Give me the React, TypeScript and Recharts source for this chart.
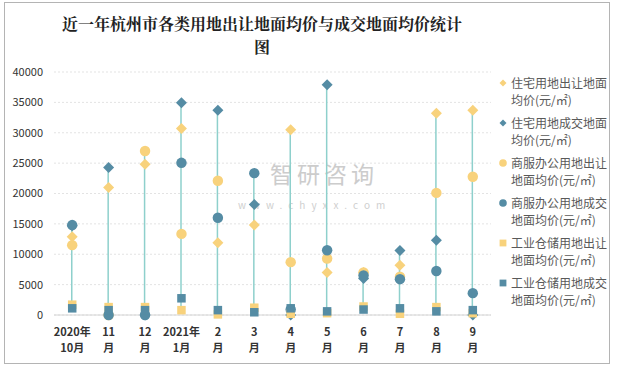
import React from "react";
import {
  ComposedChart,
  Bar,
  Line,
  XAxis,
  YAxis,
  CartesianGrid,
} from "recharts";

const months = [
  "2020年|10月",
  "11|月",
  "12|月",
  "2021年|1月",
  "2|月",
  "3|月",
  "4|月",
  "5|月",
  "6|月",
  "7|月",
  "8|月",
  "9|月",
];

// 住宅用地出让地面均价
const resSell = [12900, 21000, 24800, 30700, 11900, 14800, 30500, 7000, 7000, 8200, 33200, 33700];
// 住宅用地成交地面均价
const resDeal = [14700, 24300, 0, 34950, 33700, 18200, 0, 37900, 6000, 10600, 12300, 0];
// 商服办公用地出让地面均价
const comSell = [11500, 0, 27000, 13350, 22100, null, 8700, 9300, 7000, 6300, 20100, 22750];
// 商服办公用地成交地面均价
const comDeal = [14800, 0, 0, 25050, 16000, 23350, 900, 10650, 6500, 5900, 7250, 3600];
// 工业仓储用地出让地面均价
const indSell = [1700, 1300, 1300, 800, 100, 1200, 200, 300, 1400, 200, 1300, 300];
// 工业仓储用地成交地面均价
const indDeal = [1100, 800, 800, 2750, 800, 450, 1100, 600, 900, 1100, 600, 800];

const yTicks = [0, 5000, 10000, 15000, 20000, 25000, 30000, 35000, 40000];

const YELLOW = "#F8D27C";
const BLUE = "#558CA4";
const TEAL = "#8ED0CC";

const series = [
  { key: "resSell", name: "住宅用地出让地面均价(元/㎡)", color: YELLOW, shape: "diamond" },
  { key: "resDeal", name: "住宅用地成交地面均价(元/㎡)", color: BLUE, shape: "diamond" },
  { key: "comSell", name: "商服办公用地出让地面均价(元/㎡)", color: YELLOW, shape: "circle" },
  { key: "comDeal", name: "商服办公用地成交地面均价(元/㎡)", color: BLUE, shape: "circle" },
  { key: "indSell", name: "工业仓储用地出让地面均价(元/㎡)", color: YELLOW, shape: "square" },
  { key: "indDeal", name: "工业仓储用地成交地面均价(元/㎡)", color: BLUE, shape: "square" },
];

const data = months.map((m, i) => {
  const vals = [resSell[i], resDeal[i], comSell[i], comDeal[i], indSell[i], indDeal[i]].filter(
    (v) => v !== null
  ) as number[];
  return {
    month: m,
    resSell: resSell[i],
    resDeal: resDeal[i],
    comSell: comSell[i],
    comDeal: comDeal[i],
    indSell: indSell[i],
    indDeal: indDeal[i],
    range: [Math.min(...vals), Math.max(...vals)],
  };
});

const Marker = ({ cx, cy, shape, color, size }: any) => {
  if (cx == null || cy == null || isNaN(cy)) return null;
  const r = size / 2;
  if (shape === "diamond") {
    return (
      <path
        d={`M${cx},${cy - r} L${cx + r},${cy} L${cx},${cy + r} L${cx - r},${cy} Z`}
        fill={color}
      />
    );
  }
  if (shape === "circle") {
    return <circle cx={cx} cy={cy} r={r * 0.95} fill={color} />;
  }
  return <rect x={cx - r * 0.85} y={cy - r * 0.85} width={r * 1.7} height={r * 1.7} fill={color} />;
};

const MonthTick = ({ x, y, payload }: any) => {
  const [a, b] = String(payload.value).split("|");
  return (
    <text x={x} y={y} textAnchor="middle" fontSize={11} fontWeight="bold" fill="#333">
      <tspan x={x} dy={21}>
        {a}
      </tspan>
      <tspan x={x} dy={16}>
        {b}
      </tspan>
    </text>
  );
};

const ChartLegend = () => (
  <div style={{ position: "absolute", left: 498, top: 74, width: 115 }}>
    {series.map((s) => (
      <div key={s.key} style={{ display: "flex", alignItems: "flex-start", marginBottom: 6 }}>
        <svg width={10} height={17} style={{ flex: "none", marginRight: 3 }}>
          <Marker cx={5} cy={9} shape={s.shape} color={s.color} size={s.shape === "diamond" ? 7 : 8} />
        </svg>
        <div
          style={{
            width: 97,
            fontSize: 12,
            lineHeight: "17px",
            color: "#595959",
            wordBreak: "break-all",
          }}
        >
          {s.name}
        </div>
      </div>
    ))}
  </div>
);

export default function App() {
  return (
    <div
      style={{
        position: "absolute",
        left: 0,
        top: 0,
        width: 617,
        height: 368,
        background: "#fff",
        fontFamily: "'Noto Sans CJK SC', 'Noto Sans', sans-serif",
      }}
    >
      <div
        style={{
          position: "absolute",
          left: 4,
          top: 2,
          width: 604,
          height: 360,
          border: "1px solid #b4b4b4",
        }}
      />
      <div
        style={{
          position: "absolute",
          left: 60,
          top: 12,
          width: 404,
          textAlign: "center",
          fontSize: 16,
          lineHeight: "23px",
          fontWeight: "bold",
          color: "#222",
          fontFamily: "'Noto Serif CJK SC', 'Noto Sans CJK SC', serif",
        }}
      >
        近一年杭州市各类用地出让地面均价与成交地面均价统计图
      </div>
      <div
        style={{
          position: "absolute",
          left: 270,
          top: 160,
          color: "#c4c4c4",
          fontSize: 23,
          lineHeight: "26px",
          letterSpacing: 4,
          opacity: 0.85,
        }}
      >
        智研咨询
      </div>
      <div
        style={{
          position: "absolute",
          left: 238,
          top: 199,
          color: "#cfcfcf",
          fontSize: 10,
          lineHeight: "11px",
          letterSpacing: 6,
        }}
      >
        www.chyxx.com
      </div>
      <ComposedChart
        width={617}
        height={368}
        data={data}
        margin={{ top: 72, right: 126, bottom: 0, left: 0 }}
        style={{ position: "absolute", left: 0, top: 0 }}
      >
        <CartesianGrid vertical={false} stroke="#e3e3e3" strokeDasharray="2 2" />
        <XAxis
          dataKey="month"
          axisLine={{ stroke: "#d4d4d4" }}
          tickLine={false}
          tickSize={0}
          tickMargin={0}
          interval={0}
          tick={<MonthTick />}
          height={53}
        />
        <YAxis
          width={54}
          domain={[0, 40000]}
          ticks={yTicks}
          axisLine={false}
          tickLine={false}
          tickMargin={5}
          tick={{ fontSize: 11, fill: "#333" }}
        />
        <Bar dataKey="range" barSize={1.5} fill={TEAL} isAnimationActive={false} />
        {series.map((s) => (
          <Line
            key={s.key}
            dataKey={s.key}
            name={s.name}
            stroke="none"
            isAnimationActive={false}
            activeDot={false}
            dot={(p: any) => (
              <Marker
                key={`${s.key}-${p.index}`}
                cx={p.cx}
                cy={p.cy}
                shape={s.shape}
                color={s.color}
                size={s.shape === "square" ? 10 : 11}
              />
            )}
          />
        ))}
      </ComposedChart>
      <ChartLegend />
    </div>
  );
}
